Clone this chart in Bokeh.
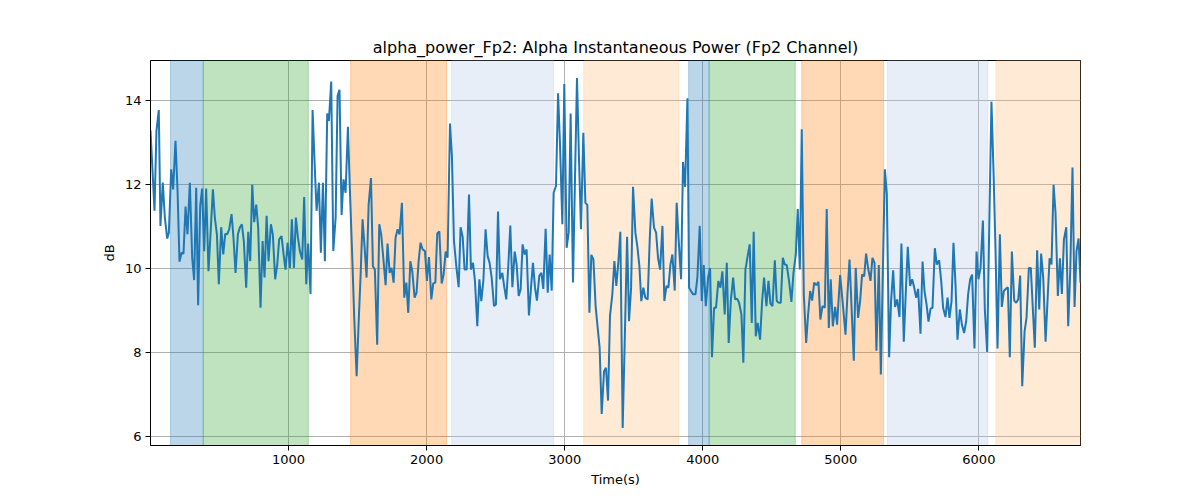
from bokeh.plotting import figure
from bokeh.models import Range1d, BoxAnnotation, FixedTicker
from bokeh.embed import file_html
from bokeh.resources import INLINE

# ---- data ----
time_s = [
    0, 29, 43, 60, 72, 89, 104, 121, 133, 150, 164, 181, 196, 210, 225, 239, 254, 268, 285, 302,
    316, 331, 345, 360, 374, 389, 403, 420, 432, 452, 466, 481, 495, 512, 527, 541, 555, 570, 587, 601,
    616, 633, 647, 662, 676, 693, 708, 722, 737, 751, 766, 780, 797, 812, 826, 841, 855, 872, 886, 903,
    918, 932, 949, 964, 978, 993, 1010, 1024, 1039, 1053, 1068, 1082, 1099, 1113, 1128, 1142, 1159, 1174, 1188, 1203,
    1220, 1234, 1249, 1263, 1280, 1292, 1309, 1324, 1341, 1355, 1369, 1384, 1398, 1413, 1430, 1444, 1461, 1476, 1493, 1507,
    1522, 1536, 1551, 1565, 1580, 1597, 1611, 1625, 1642, 1657, 1671, 1686, 1703, 1717, 1732, 1746, 1761, 1775, 1790, 1804,
    1821, 1838, 1853, 1867, 1882, 1896, 1913, 1927, 1942, 1956, 1971, 1988, 2002, 2017, 2034, 2048, 2063, 2077, 2092, 2109,
    2123, 2138, 2152, 2169, 2183, 2198, 2215, 2232, 2246, 2261, 2275, 2290, 2307, 2321, 2336, 2350, 2367, 2382, 2396, 2411,
    2427, 2442, 2456, 2471, 2488, 2502, 2517, 2531, 2548, 2563, 2577, 2592, 2606, 2621, 2638, 2652, 2667, 2681, 2695, 2710,
    2724, 2741, 2756, 2770, 2785, 2799, 2816, 2831, 2845, 2862, 2877, 2891, 2906, 2920, 2937, 2952, 2966, 2983, 2997, 3014,
    3029, 3043, 3060, 3075, 3089, 3104, 3118, 3135, 3150, 3164, 3179, 3193, 3208, 3224, 3239, 3253, 3268, 3285, 3299, 3314,
    3328, 3345, 3360, 3374, 3389, 3403, 3420, 3437, 3452, 3466, 3481, 3495, 3512, 3526, 3541, 3555, 3570, 3584, 3601, 3616,
    3630, 3647, 3662, 3676, 3691, 3708, 3722, 3737, 3751, 3766, 3780, 3797, 3811, 3826, 3843, 3857, 3872, 3889, 3901, 3915,
    3930, 3947, 3961, 3978, 3993, 4007, 4022, 4039, 4053, 4067, 4082, 4096, 4113, 4128, 4142, 4159, 4174, 4188, 4203, 4220,
    4234, 4249, 4263, 4280, 4294, 4309, 4323, 4340, 4355, 4369, 4384, 4398, 4415, 4430, 4444, 4461, 4476, 4490, 4505, 4522,
    4536, 4551, 4565, 4580, 4594, 4608, 4625, 4642, 4657, 4674, 4688, 4703, 4717, 4732, 4749, 4763, 4778, 4792, 4807, 4823,
    4838, 4852, 4867, 4884, 4898, 4913, 4927, 4942, 4959, 4973, 4995, 5017, 5034, 5048, 5063, 5079, 5094, 5108, 5125, 5140,
    5154, 5169, 5183, 5198, 5215, 5229, 5244, 5258, 5275, 5290, 5304, 5319, 5333, 5350, 5364, 5379, 5393, 5408, 5425, 5439,
    5456, 5471, 5485, 5502, 5517, 5531, 5546, 5560, 5577, 5592, 5606, 5621, 5635, 5650, 5664, 5681, 5695, 5712, 5727, 5741,
    5758, 5773, 5787, 5802, 5816, 5831, 5845, 5862, 5877, 5893, 5908, 5922, 5937, 5951, 5968, 5983, 5997, 6012, 6029, 6043,
    6060, 6075, 6091, 6106, 6120, 6135, 6152, 6166, 6181, 6195, 6210, 6224, 6239, 6256, 6270, 6285, 6299, 6314, 6331, 6345,
    6362, 6376, 6391, 6405, 6422, 6437, 6451, 6466, 6483, 6497, 6512, 6526, 6541, 6555, 6572, 6587, 6601, 6616, 6633, 6647,
    6662, 6678, 6693, 6707, 6722, 6736,
]

power_db = [
    13.3, 11.38, 13.28, 13.78, 11.02, 12.05, 11.22, 10.72, 10.86, 12.37, 11.89, 13.05, 11.85, 10.17, 10.38, 10.36, 11.48, 10.82, 12.05, 10.26,
    9.73, 11.93, 9.13, 11.5, 11.91, 10.42, 11.91, 9.94, 10.66, 11.89, 11.22, 10.82, 9.63, 10.99, 10.34, 10.83, 10.82, 10.94, 11.30, 10.74,
    9.90, 10.82, 10.98, 11.06, 10.66, 9.55, 10.88, 10.18, 12.0, 11.11, 11.53, 10.98, 9.07, 10.66, 9.79, 11.26, 10.18, 11.06, 10.82, 9.75,
    10.10, 10.70, 10.78, 10.34, 9.98, 10.62, 10.02, 11.18, 10.02, 11.22, 10.74, 10.42, 10.22, 11.71, 9.63, 10.60, 9.40, 13.78, 12.57, 11.38,
    12.05, 10.38, 12.05, 10.18, 13.70, 13.52, 14.46, 10.42, 11.22, 14.12, 14.26, 11.28, 12.13, 11.81, 13.38, 11.9, 10.3, 8.8, 7.44, 8.67,
    9.86, 11.18, 10.50, 9.79, 11.53, 12.16, 10.06, 9.98, 8.19, 11.06, 10.82, 10.26, 9.61, 10.60, 9.90, 10.02, 9.67, 10.74, 10.94, 10.82,
    11.57, 9.31, 9.67, 8.95, 10.18, 9.94, 9.31, 9.43, 10.18, 10.62, 10.46, 10.42, 9.71, 10.28, 9.27, 9.65, 9.67, 10.84, 10.89, 9.65,
    9.86, 10.41, 10.26, 13.46, 12.69, 10.66, 10.06, 9.56, 10.99, 10.76, 9.98, 9.98, 11.77, 9.98, 10.14, 9.71, 8.63, 9.75, 9.23, 9.72,
    10.94, 10.30, 10.14, 9.79, 9.11, 9.15, 11.36, 9.75, 9.90, 9.55, 9.27, 10.10, 11.03, 9.56, 10.41, 10.10, 9.35, 9.51, 10.58, 10.34,
    10.46, 8.89, 9.55, 10.14, 9.55, 9.24, 9.83, 9.90, 9.52, 10.95, 9.43, 10.34, 9.48, 11.81, 11.97, 14.18, 12.97, 11.06, 14.40, 10.50,
    10.86, 13.70, 9.67, 12.21, 14.54, 12.57, 10.94, 13.24, 11.57, 11.52, 8.95, 10.33, 10.22, 9.11, 8.59, 8.12, 6.54, 7.56, 7.64, 6.86,
    8.87, 9.39, 10.18, 9.59, 10.18, 10.88, 6.21, 8.59, 10.76, 8.75, 9.55, 11.95, 10.86, 10.54, 10.06, 9.23, 9.55, 9.31, 9.27, 10.70,
    11.67, 10.98, 10.86, 10.26, 9.98, 11.02, 9.23, 9.59, 9.55, 10.10, 10.34, 9.48, 11.57, 10.66, 9.75, 12.54, 11.95, 14.06, 9.55, 9.47,
    9.39, 9.39, 9.79, 11.02, 9.23, 10.09, 9.11, 9.79, 10.02, 7.89, 9.07, 9.07, 9.71, 9.55, 9.94, 8.91, 10.14, 8.23, 9.23, 9.79,
    9.27, 9.29, 9.19, 8.91, 7.76, 9.98, 10.26, 10.58, 8.71, 10.88, 8.39, 8.71, 8.31, 9.23, 9.79, 9.11, 9.71, 9.17, 9.11, 10.20,
    9.23, 9.19, 9.19, 10.26, 10.10, 10.09, 9.71, 9.21, 9.90, 10.34, 11.42, 9.98, 13.32, 9.39, 8.23, 8.91, 9.47, 9.24, 9.67, 9.61,
    9.69, 8.79, 9.11, 9.07, 11.42, 8.59, 9.75, 8.63, 9.09, 8.67, 9.85, 9.07, 8.43, 9.39, 10.22, 8.99, 7.81, 10.02, 8.83, 9.24,
    9.86, 9.82, 10.36, 10.01, 9.71, 10.26, 10.14, 8.05, 10.09, 7.48, 9.86, 12.37, 11.79, 7.89, 9.23, 9.96, 9.09, 9.27, 8.85, 10.60,
    8.26, 9.47, 10.52, 9.59, 9.75, 9.56, 9.31, 9.52, 8.45, 10.17, 9.47, 9.15, 8.74, 9.05, 9.07, 10.49, 10.10, 10.20, 9.71, 9.07,
    8.85, 9.31, 8.83, 9.23, 10.62, 9.6, 8.31, 9.03, 8.67, 8.47, 8.75, 9.39, 9.75, 9.86, 8.10, 10.41, 9.75, 10.02, 11.15, 9.03,
    8.02, 10.98, 13.98, 12.33, 10.50, 8.10, 10.82, 9.09, 9.47, 9.52, 9.56, 7.89, 10.41, 9.24, 9.19, 9.27, 9.84, 7.20, 8.51, 8.83,
    10.02, 10.02, 9.03, 8.12, 10.44, 9.03, 10.36, 9.79, 8.26, 9.23, 10.25, 10.10, 12.00, 11.34, 9.35, 10.25, 9.40, 10.70, 10.99, 8.63,
    9.98, 12.41, 9.09, 10.42, 10.72, 9.67,
]

span_start = [145, 382, 1449, 2181, 3138, 3898, 4046, 4717, 5338, 6123]
span_end = [382, 1143, 2145, 2920, 3828, 4046, 4670, 5310, 6065, 6736]
span_color = ["#1f77b4", "#2ca02c", "#ff7f0e", "#aec7e8", "#ffbb78",
              "#1f77b4", "#2ca02c", "#ff7f0e", "#aec7e8", "#ffbb78"]
span_alpha = [0.3, 0.3, 0.3, 0.3, 0.3, 0.3, 0.3, 0.3, 0.3, 0.3]

x_ticks = [1000, 2000, 3000, 4000, 5000, 6000]
y_ticks = [6, 8, 10, 12, 14]

FONT = "DejaVu Sans"

p = figure(width=1200, height=500,
           x_range=Range1d(0, 6736), y_range=Range1d(5.79, 14.96),
           output_backend="svg", toolbar_location=None,
           min_border_left=150, min_border_right=120,
           min_border_top=60, min_border_bottom=55,
           title="alpha_power_Fp2: Alpha Instantaneous Power (Fp2 Channel)")

p.background_fill_color = "white"
p.border_fill_color = "white"
p.outline_line_color = "black"
p.outline_line_width = 1

p.title.align = "center"
p.title.text_font = FONT
p.title.text_font_size = "16px"
p.title.text_font_style = "normal"
p.title.text_color = "black"
p.title.standoff = 8

for s, e, c, a in zip(span_start, span_end, span_color, span_alpha):
    p.add_layout(BoxAnnotation(left=s, right=e, fill_color=c, fill_alpha=a,
                               line_color=c, line_alpha=a, line_width=1,
                               level="underlay"))

p.line(time_s, power_db, line_color="#1f77b4", line_width=2)

p.xaxis.ticker = FixedTicker(ticks=x_ticks)
p.yaxis.ticker = FixedTicker(ticks=y_ticks)
p.xaxis.axis_label = "Time(s)"
p.yaxis.axis_label = "dB"

for ax in (p.xaxis, p.yaxis):
    ax.axis_label_text_font = FONT
    ax.axis_label_text_font_size = "13px"
    ax.axis_label_text_font_style = "normal"
    ax.axis_label_text_color = "black"
    ax.major_label_text_font = FONT
    ax.major_label_text_font_size = "13px"
    ax.major_label_text_color = "black"
    ax.major_tick_out = 5
    ax.major_tick_in = 0
    ax.minor_tick_line_color = None
    ax.axis_line_color = "black"
    ax.major_tick_line_color = "black"
    ax.major_label_standoff = 4
    ax.axis_label_standoff = 5

for g in (p.xgrid, p.ygrid):
    g.grid_line_color = "#b0b0b0"
    g.grid_line_width = 1

open("out.html", "w").write(file_html(p, INLINE))
